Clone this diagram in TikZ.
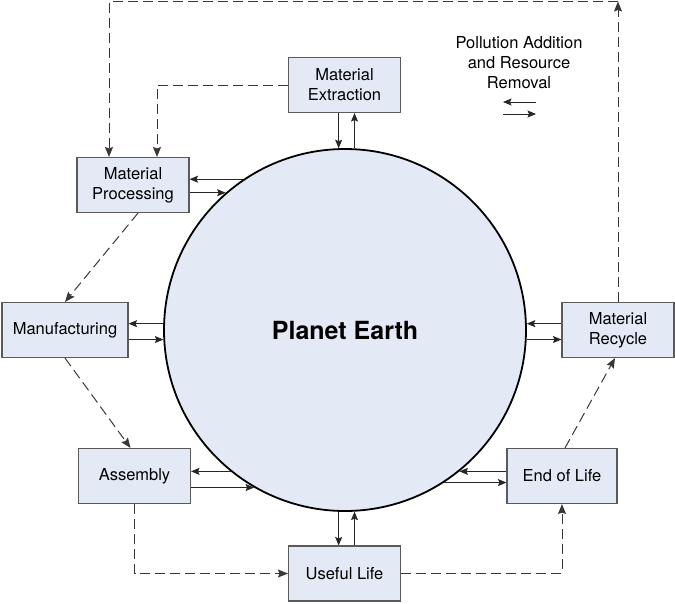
\documentclass[tikz,border=0pt]{standalone}
\usepackage{fontspec}
\setmainfont{TeX Gyre Heros}
\usepackage{tikz}
\usetikzlibrary{arrows.meta, positioning, calc}
\definecolor{paleblue}{HTML}{E4EAF5}
\definecolor{boxline}{HTML}{5A5A5A}

\begin{document}
\begin{tikzpicture}[
  x = 1pt, y = -1pt,
  font         = \fontsize{16.5}{20}\selectfont,
  % one box per life-cycle stage
  stage/.style = {draw=boxline, line width=1.1pt, fill=paleblue,
                  minimum width=112pt, minimum height=55pt,
                  align=center, inner sep=2pt},
  flow/.style  = {-{Stealth[length=8.5pt, width=7pt, inset=1.5pt]},
                  line width=0.85pt, draw=black!85},
  link/.style  = {-{Stealth[length=10pt, width=8pt, inset=1.5pt]},
                  line width=1pt, dash pattern=on 10pt off 5pt, draw=black!78},
]
\useasboundingbox (0,0) rectangle (675,603);

% Planet in the middle, stages round it (pixel grid, y downwards)
\node[circle, draw, line width=1.8pt, fill=paleblue, inner sep=0pt,
      minimum size=362pt, font=\fontsize{25}{28}\selectfont\bfseries]
      (earth) at (345, 330) {Planet Earth};

\node[stage]                        (extr)   at (344.5, 85)  {Material\\Extraction};
\node[stage]                        (procs)  at (133, 185)   {Material\\Processing};
\node[stage, minimum width=126pt]   (manuf)  at (65, 330)    {Manufacturing};
\node[stage]                        (assem)  at (134.5, 476) {Assembly};
\node[stage]                        (useful) at (344.5, 573.5) {Useful Life};
\node[stage, minimum width=110pt]   (eol)    at (562, 476)   {End of Life};
\node[stage]                        (recyc)  at (618, 330)   {Material\\Recycle};

% ── Legend ─────────────────────────────────────────────────────────────────────
\node[align=center] (legend) at (519, 63)
      {Pollution Addition\\and Resource\\Removal};
\coordinate (lgA) at (536, 102);
\coordinate (lgB) at (503, 102);
\coordinate (lgC) at (503, 114);
\coordinate (lgD) at (536, 114);
\draw[flow] (lgA) -- (lgB);
\draw[flow] (lgC) -- (lgD);

% ── Exchange with the planet ───────────────────────────────────────────────────
\draw[flow] (extr.south -| earth.92) -- (earth.92);
\draw[flow] (earth.87) -- (earth.87 |- extr.south);

\draw[flow] (earth.124) -- (earth.124 -| procs.east);
\draw[flow] (earth.131 -| procs.east) -- (earth.131);

\draw[flow] (earth.178) -- (earth.178 -| manuf.east);
\draw[flow] (earth.183 -| manuf.east) -- (earth.183);

\draw[flow] (earth.231) -- (earth.231 -| assem.east);
\draw[flow] (earth.240 -| assem.east) -- (earth.240);

\draw[flow] (earth.268) -- (earth.268 |- useful.north);
\draw[flow] (earth.273 |- useful.north) -- (earth.273);

\draw[flow] (earth.309 -| eol.west) -- (earth.309);
\draw[flow] (earth.303) -- (earth.303 -| eol.west);

\draw[flow] (earth.2 -| recyc.west) -- (earth.2);
\draw[flow] (earth.357) -- (earth.357 -| recyc.west);

% ── Material path between stages ───────────────────────────────────────────────
\draw[link] (extr.west) -| ([xshift=24pt]procs.north);
\draw[link] ([xshift=5pt]procs.south) -- (manuf.north);
\draw[link] (manuf.south) -- ([xshift=-4pt]assem.north);
\draw[link] (assem.south) |- (useful.west);
\draw[link] (useful.east) -| (eol.south);
\draw[link] ([xshift=3pt]eol.north) -- ([xshift=-3pt]recyc.south);

\coordinate (loop) at (618, 1.5);
\draw[link] (recyc.north) -- (loop);
\draw[link] (loop) -| ([xshift=-24pt]procs.north);

\end{tikzpicture}
\end{document}
